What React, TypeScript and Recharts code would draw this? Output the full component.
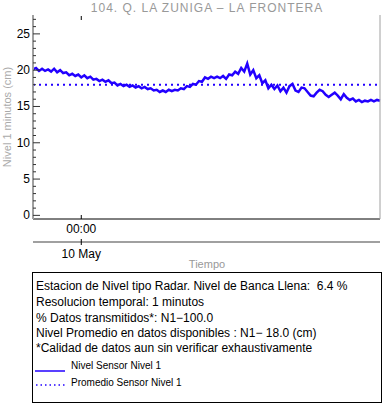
import React from "react"
import { LineChart, Line, XAxis, YAxis, ReferenceLine, Legend, Customized } from "recharts"

const title = "104. Q. LA ZUNIGA – LA FRONTERA"

// nivel 1 minutos (cm)
const nivel = [
  20.1, 20.3, 19.9, 20.2, 19.9, 20.1, 19.8, 20.2, 19.7, 20.0,
  19.6, 19.7, 19.3, 19.5, 19.2, 19.4, 19.0, 19.3, 18.9, 19.1,
  18.7, 18.8, 18.5, 18.7, 18.4, 18.6, 18.2, 18.3, 17.9, 18.1,
  17.8, 18.0, 17.7, 17.9, 17.6, 17.8, 17.5, 17.7, 17.4, 17.5,
  17.2, 17.3, 17.0, 17.2, 17.0, 17.3, 17.1, 17.3, 17.2, 17.5,
  17.4, 17.8, 17.7, 18.1, 18.0, 18.5, 18.4, 19.0, 18.8, 19.1,
  18.9, 19.1, 18.9, 19.2, 18.8, 19.4, 19.3, 19.8, 19.5, 20.3,
  19.8, 20.9, 19.4, 20.0, 18.9, 19.3, 18.2, 18.6, 17.5, 18.0,
  17.4, 17.9, 17.1, 17.6, 16.9, 17.8, 18.1, 17.2, 17.0, 17.6,
  17.5, 17.0, 16.5, 16.4, 16.9, 17.3, 17.1, 16.6, 16.3, 16.6,
  16.9, 16.5, 16.0, 16.7, 16.2, 15.9, 16.1, 15.7, 15.9, 15.6,
  15.8, 15.7, 15.9, 15.7, 15.9, 15.8,
]
const promedio = 18.0

const hourTicks = [16]
const hourLabels = ["00:00"]
const dayLabels = ["10 May"]
const yTicks = [0, 1, 2, 3, 4, 5, 6, 7, 8, 9, 10, 11, 12, 13, 14, 15, 16, 17, 18, 19, 20, 21, 22, 23, 24, 25, 26, 27]

const infoLines = [
  "Estacion de Nivel tipo Radar. Nivel de Banca Llena:\u00a0 6.4 %",
  "Resolucion temporal: 1 minutos",
  "% Datos transmitidos*: N1\u2212100.0",
  "Nivel Promedio en datos disponibles : N1\u2212 18.0 (cm)",
  "*Calidad de datos aun sin verificar exhaustivamente",
]
const seriesNames = ["Nivel Sensor Nivel 1", "Promedio Sensor Nivel 1"]

const data = nivel.map((v, i) => ({ i, nivel: v }))

const FONT = "'Liberation Sans', Arial, sans-serif"
const BLUE = "#2200ff"
const GRAY = "#999999"

function LeftTick({ x, y, payload }: any) {
  const major = payload.value % 5 === 0
  return (
    <g>
      <line x1={x} x2={x + (major ? 7 : 3)} y1={y} y2={y} stroke="#333" />
      {major && (
        <text x={x - 3} y={y + 4} textAnchor="end" fontSize={12} fontFamily={FONT} fill="#000">
          {payload.value}
        </text>
      )}
    </g>
  )
}

function RightTick({ x, y, payload }: any) {
  const major = payload.value % 5 === 0
  return <line x1={x} x2={x - (major ? 7 : 3)} y1={y} y2={y} stroke="#333" />
}

function HourTick({ x, y, index }: any) {
  return (
    <g>
      <line x1={x} x2={x} y1={y} y2={y - 4} stroke="#000" />
      <line x1={x} x2={x} y1={16} y2={20} stroke="#000" />
      <text x={x} y={y + 14} textAnchor="middle" fontSize={12} fontFamily={FONT} fill="#000">
        {hourLabels[index]}
      </text>
    </g>
  )
}

function DayTick({ x, y, index }: any) {
  return (
    <g>
      <line x1={x} x2={x} y1={y - 3} y2={y + 3} stroke="#000" />
      <text x={x} y={y + 16} textAnchor="middle" fontSize={12} fontFamily={FONT} fill="#000">
        {dayLabels[index]}
      </text>
    </g>
  )
}

function Title() {
  return (
    <text x={207} y={12} textAnchor="middle" fontSize={12} letterSpacing={1} fontFamily={FONT} fill={GRAY}>
      {title}
    </text>
  )
}

function InfoBox() {
  const base = [18, 34, 50, 65, 80]
  return (
    <svg width={350} height={131} style={{ display: "block" }}>
      <rect x={0.5} y={0.5} width={349} height={130} fill="#fff" stroke="#000" />
      {infoLines.map((t, k) => (
        <text key={k} x={4} y={base[k]} fontSize={12} fontFamily={FONT} fill="#000">
          {t}
        </text>
      ))}
      <line x1={3} x2={33} y1={99} y2={99} stroke={BLUE} strokeWidth={1.5} />
      <text x={39} y={97} fontSize={10} fontFamily={FONT} fill="#000">
        {seriesNames[0]}
      </text>
      <line x1={4} x2={33} y1={113} y2={113} stroke={BLUE} strokeWidth={1.5} strokeDasharray="1.5 3" />
      <text x={39} y={114} fontSize={10} fontFamily={FONT} fill="#000">
        {seriesNames[1]}
      </text>
    </svg>
  )
}

export default function App() {
  return (
    <div style={{ position: "absolute", left: 0, top: 0, background: "#fff" }}>
      <LineChart width={382} height={404} data={data} margin={{ top: 15, right: 0, left: 0, bottom: 132 }}>
        <XAxis
          xAxisId="x1"
          dataKey="i"
          type="number"
          domain={[0, nivel.length - 1]}
          ticks={hourTicks}
          interval={0}
          height={23}
          tickSize={0}
          tickMargin={0}
          tickLine={false}
          axisLine={{ stroke: "#000" }}
          tick={<HourTick />}
        />
        <XAxis
          xAxisId="x2"
          dataKey="i"
          type="number"
          domain={[0, nivel.length - 1]}
          ticks={hourTicks}
          interval={0}
          height={30}
          tickSize={0}
          tickMargin={0}
          tickLine={false}
          axisLine={{ stroke: "#a0a0a0", strokeWidth: 2 }}
          tick={<DayTick />}
          label={{
            content: () => (
              <text x={207} y={268} textAnchor="middle" fontSize={11} fontFamily={FONT} fill={GRAY}>
                Tiempo
              </text>
            ),
          }}
        />
        <YAxis
          yAxisId="l"
          width={33}
          domain={[-0.5, 27.6]}
          ticks={yTicks}
          interval={0}
          tickSize={0}
          tickMargin={0}
          tickLine={false}
          axisLine={{ stroke: "#a0a0a0", strokeWidth: 2 }}
          tick={<LeftTick />}
          label={{
            content: () => (
              <text
                x={11}
                y={117}
                transform="rotate(-90 11 117)"
                textAnchor="middle"
                fontSize={11}
                fontFamily={FONT}
                fill="#aaaaaa"
              >
                Nivel 1 minutos (cm)
              </text>
            ),
          }}
        />
        <YAxis
          yAxisId="r"
          orientation="right"
          width={2}
          domain={[-0.5, 27.6]}
          ticks={yTicks}
          interval={0}
          tickSize={0}
          tickMargin={0}
          tickLine={false}
          axisLine={{ stroke: "#a0a0a0", strokeWidth: 1 }}
          tick={<RightTick />}
        />
        <ReferenceLine
          xAxisId="x1"
          yAxisId="l"
          y={promedio}
          stroke={BLUE}
          strokeWidth={2}
          strokeDasharray="2 4"
          ifOverflow="visible"
        />
        <Line
          xAxisId="x1"
          yAxisId="l"
          type="linear"
          dataKey="nivel"
          stroke={BLUE}
          strokeWidth={2.5}
          dot={false}
          isAnimationActive={false}
        />
        <Customized component={Title} />
        <Legend
          layout="vertical"
          align="center"
          verticalAlign="middle"
          wrapperStyle={{ left: 32, top: 272, width: 350, height: 131 }}
          content={() => <InfoBox />}
        />
      </LineChart>
    </div>
  )
}
